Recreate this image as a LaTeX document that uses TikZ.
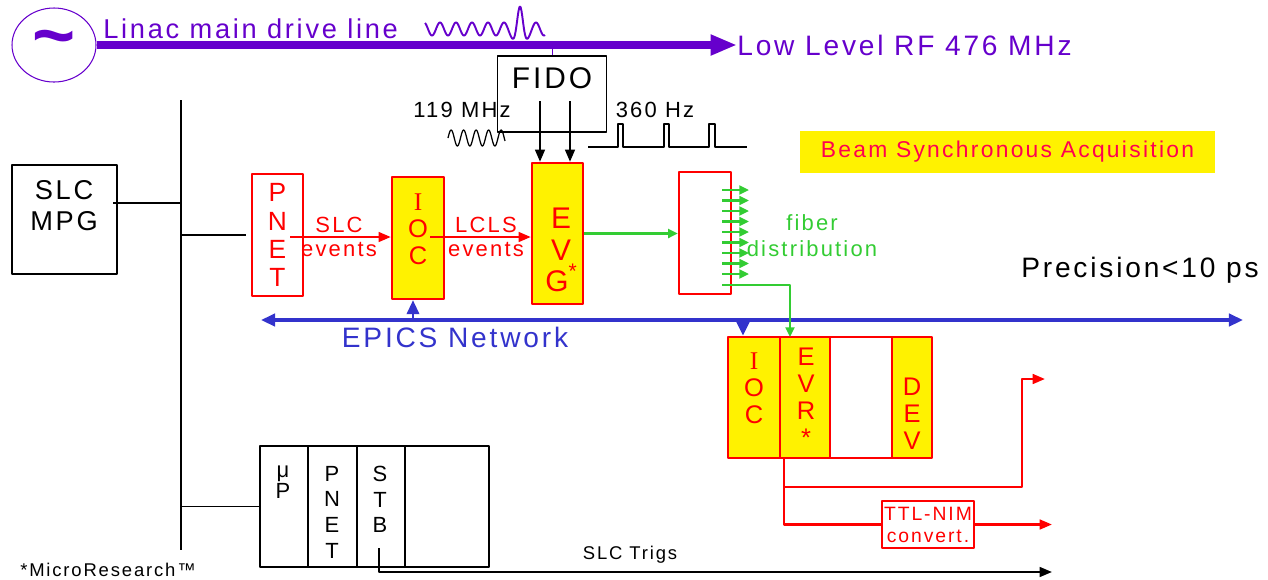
\documentclass[tikz,border=0pt]{standalone}
\usepackage{fontspec}
\setmainfont{Liberation Sans}[LetterSpace=10]
\newfontfamily\serfont{Liberation Serif}
\usetikzlibrary{arrows.meta,positioning,shapes.geometric}
\definecolor{drive}{RGB}{102,0,204}
\definecolor{epics}{RGB}{51,51,204}
\definecolor{fibre}{RGB}{51,204,51}
\definecolor{bsa}{RGB}{255,0,80}
\def\px{0.02cm} % one pixel of the reference
\newcommand{\fs}[2]{\fontsize{#1}{#2}\selectfont}
\tikzset{
  wh/.style 2 args={minimum width=#1*\px, minimum height=#2*\px},
  blk/.style={draw=black, line width=0.6pt, inner sep=0pt},
  redbox/.style={draw=red, line width=1.3pt, inner sep=0pt, text=red, align=center},
  yelbox/.style={redbox, fill=yellow},
  redarr/.style={red, line width=1.4pt, -{Triangle[length=7pt,width=5.5pt]}},
  blkarr/.style={black, line width=1.4pt, -{Triangle[length=7pt,width=5.5pt]}},
  fibarr/.style={fibre, line width=1.5pt, -{Triangle[length=5.5pt,width=5pt]}},
  netarr/.style={epics, line width=2pt, -{Triangle[length=8pt,width=7pt]}}
}

\begin{document}
\begin{tikzpicture}[x=\px, y=-\px, line join=round]
\useasboundingbox (0,0) rectangle (1268,579);

% drive line and oscillator
\node[ellipse, draw=drive, line width=0.6pt, wh={84}{74}, inner sep=0pt, text=drive, font=\fs{42}{42}\bfseries] (osc) at (54,45) {\textasciitilde};
\node[text=drive, font=\fs{15.5}{18}, anchor=base west, inner sep=0pt] (linac) at (103,38) {Linac main drive line};
\node[text=drive, font=\fs{16}{18}, anchor=west, inner sep=0pt] (rf) at (737,45) {Low Level RF 476 MHz};
\draw[drive, line width=4.5pt, -{Triangle[length=15pt,width=11pt]}] (osc.east |- rf.west) -- (rf.west);
\draw[drive, line width=1.1pt] plot[domain=425:545, samples=200]
  (\x, {29 - (6.5+16*exp(-min(((\x-520)/6)^2,9)))*cos(22.5*(\x-520))});

% FIDO
\node[blk, wh={109}{76}] (fido) at (552,94) {};
\node[font=\fs{17}{20}] (fidotxt) at (552,78) {FIDO};
\draw[drive, line width=0.5pt] (fido.north) -- (fido.north |- rf.west);
\node[font=\fs{12.5}{14}] (mhz) at (462,110) {119 MHz};
\node[font=\fs{12.5}{14}] (hz) at (655,110) {360 Hz};
\draw[line width=0.7pt] plot[domain=448:505, samples=120] (\x, {138 - 8*sin(28.8*(\x-448))});
\draw[line width=0.7pt] (588,147) -- (618,147) -- (618,124) -- (623,124) -- (623,147)
  -- (664,147) -- (664,124) -- (669,124) -- (669,147)
  -- (709,147) -- (709,124) -- (715,124) -- (715,147) -- (747,147);

\node[fill=yellow, text=bsa, wh={415}{42}, inner sep=0pt, font=\fs{13}{15}] (bsa) at (1007.5,152) {Beam Synchronous Acquisition};

% SLC side
\node[blk, wh={105}{109}] (mpg) at (64.5,219.5) {};
\node[font=\fs{15.5}{18}, align=center, anchor=north] (mpgtxt) at (64,174) {SLC\\MPG};
\coordinate (bt) at (181,100);
\coordinate (bb) at (181,550);
\draw[line width=0.8pt] (bt) -- (bb);
\coordinate (m1) at (113,203);
\draw[line width=0.6pt] (m1) -- (m1 -| bt);

% upper event chain
\node[redbox, wh={51}{122}, font=\fs{15}{16}] (pnet) at (277.5,235) {P\\N\\E\\T};
\node[yelbox, wh={52}{122}] (ioc) at (418,238) {};
\node[text=red, align=center, font=\fs{14.5}{15.3}] (ioctxt) at (418,229) {{\serfont I}\\O\\C};
\node[yelbox, wh={51}{141}] (evg) at (557.5,233.5) {};
\node[text=red, align=center, font=\fs{17}{18}] (evgtxt) at (561,250) {E\\V\\G\raisebox{0.45em}{\fs{12}{12}*}};
\node[redbox, wh={52}{122}] (fan) at (705,233) {};
\draw[line width=0.6pt] (bt |- pnet.west) -- ([xshift=-5*\px]pnet.west);

\coordinate (e1) at (290,237);
\coordinate (e2) at (430,237);
\draw[redarr] (e1) -- (e1 -| ioc.west);
\draw[redarr] (e2) -- (e2 -| evg.west);
\node[text=red, align=center, font=\fs{12.5}{13.6}] (slclbl) at (339,237) {SLC\\events};
\node[text=red, align=center, font=\fs{12.5}{13.6}] (lclslbl) at (486,237) {LCLS\\events};

\coordinate (f1) at (540,101);
\coordinate (f2) at (570,101);
\draw[blkarr] (f1) -- (f1 |- evg.north);
\draw[blkarr] (f2) -- (f2 |- evg.north);

% fiber distribution
\draw[fibarr] (evg.east) -- (evg.east -| fan.west);
\foreach \y in {0,...,8}
  \draw[fibarr] (722,190+10.5*\y) -- (749,190+10.5*\y);
\node[text=fibre, align=center, font=\fs{12.5}{14.5}] (fiberlbl) at (812,235.5) {fiber\\distribution};
\node[font=\fs{16}{18}] (prec) at (1140,270) {Precision<10 ps};

% EPICS network
\coordinate (nl) at (261,320);
\coordinate (nr) at (1243,320);
\draw[epics, line width=2pt, {Triangle[length=8pt,width=7pt]}-{Triangle[length=8pt,width=7pt]}] (nl) -- (nr);
\node[text=epics, font=\fs{16}{18}] (epics) at (455,337) {EPICS Network};
\draw[netarr, line width=1.6pt] ([xshift=-5*\px]ioc.south |- nl) -- ([xshift=-5*\px]ioc.south);

% lower crate
\node[yelbox, wh={52}{121}] (iocb) at (754,397.5) {};
\node[yelbox, wh={50}{121}] (evr) at (805,397.5) {};
\node[redbox, wh={62}{121}] (spare) at (861,397.5) {};
\node[yelbox, wh={40}{121}] (dev) at (912,397.5) {};
\node[text=red, align=center, font=\fs{14.5}{15.3}] (iocbtxt) at (754,388) {{\serfont I}\\O\\C};
\node[text=red, align=center, font=\fs{14.5}{15.3}] (evrtxt) at (806,397) {E\\V\\R\\*};
\node[text=red, align=center, font=\fs{14.5}{15.3}] (devtxt) at (912,414) {D\\E\\V};
\draw[netarr] ([xshift=-11*\px]iocb.north |- nl) -- ([xshift=-11*\px]iocb.north);
\coordinate (g0) at (722,285);
\coordinate (g1) at (790,337);
\draw[fibarr] (g0) -| (g1);

% trigger outputs
\coordinate (r0) at (784,458);
\coordinate (out1) at (1045,379);
\coordinate (out2) at (1052,520);
\draw[redarr] (r0) |- (1022,487) |- (out1);
\node[redbox, wh={92}{47}, font=\fs{11}{12.5}] (ttl) at (928,524.5) {TTL-NIM\\convert.};
\draw[red, line width=1.4pt] (784,487) |- (ttl.west);
\draw[redarr] (ttl.east) -- (ttl.east -| out2);

% SLC crate
\node[blk, wh={48}{121}] (mup) at (284,506.5) {};
\node[blk, wh={49}{121}] (pnetb) at (332.5,506.5) {};
\node[blk, wh={48}{121}] (stb) at (381,506.5) {};
\node[blk, wh={84}{121}] (spareb) at (447,506.5) {};
\node[font=\fs{12.5}{12}, align=center, anchor=north] (muptxt) at (283,460) {μ\\P};
\node[font=\fs{12.5}{14.6}, align=center, anchor=north] (pnetbtxt) at (332,460) {P\\N\\E\\T};
\node[font=\fs{12.5}{14.6}, align=center, anchor=north] (stbtxt) at (380,460) {S\\T\\B};
\draw[line width=0.6pt] (bt |- mup.west) -- (mup.west);
\coordinate (s0) at (379,548);
\coordinate (trig) at (1052,572);
\draw[black, line width=1.3pt, -{Triangle[length=7pt,width=5.5pt]}] (s0) |- (trig);
\node[font=\fs{10.5}{12}] (trigs) at (630,555) {SLC Trigs};
\node[font=\fs{10.5}{12}, inner sep=0pt] (micro) at (108,570) {*MicroResearch™};
\end{tikzpicture}
\end{document}
